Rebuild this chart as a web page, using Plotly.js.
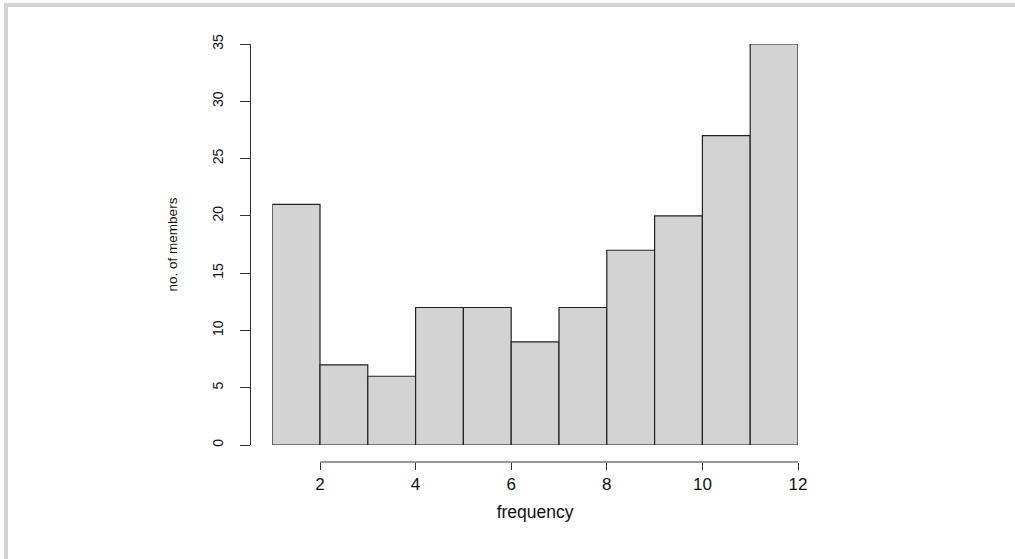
<!DOCTYPE html>
<html>
<head>
<meta charset="utf-8">
<script src="https://cdn.plot.ly/plotly-3.0.1.min.js"></script>
<style>
  html, body { margin: 0; padding: 0; background: #ffffff; }
  #frame { position: absolute; left: 4px; top: 3px; width: 1011px; height: 556px;
           border-top: 4px solid #d3d3d3; border-left: 4px solid #d3d3d3; box-sizing: border-box; }
  #chart { position: absolute; left: 0; top: 0; width: 1015px; height: 559px; }
</style>
</head>
<body>
<div id="frame"></div>
<div id="chart"></div>
<script>
// Histogram data
const binEdges = [1, 2, 3, 4, 5, 6, 7, 8, 9, 10, 11, 12];
const counts   = [21, 7, 6, 12, 12, 9, 12, 17, 20, 27, 35];
const xTicks   = [2, 4, 6, 8, 10, 12];
const yTicks   = [0, 5, 10, 15, 20, 25, 30, 35];
const xLabel   = "frequency";
const yLabel   = "no. of members";

const centers = counts.map((_, i) => (binEdges[i] + binEdges[i + 1]) / 2);
const widths  = counts.map((_, i) => binEdges[i + 1] - binEdges[i]);

const font = "Liberation Sans, Arial, Helvetica, sans-serif";

const trace = {
  type: "bar",
  x: centers,
  y: counts,
  width: widths,
  marker: { color: "#d3d3d3", line: { color: "#222222", width: 1.2 } },
  hoverinfo: "x+y"
};

const layout = {
  width: 1015,
  height: 559,
  margin: { l: 250, r: 217, t: 44, b: 97 },
  paper_bgcolor: "rgba(0,0,0,0)",
  plot_bgcolor: "rgba(0,0,0,0)",
  showlegend: false,
  bargap: 0,
  xaxis: {
    domain: [22.2 / 548, 1],
    range: [binEdges[0], binEdges[binEdges.length - 1]],
    anchor: "free",
    position: 0,
    showline: false,
    showgrid: false,
    zeroline: false,
    ticks: "outside",
    ticklen: 7,
    tickwidth: 1,
    tickcolor: "#333333",
    tickmode: "array",
    tickvals: xTicks,
    ticktext: xTicks.map(String),
    tickfont: { family: font, size: 17, color: "#111111" },
    title: { text: xLabel, font: { family: font, size: 17.5, color: "#111111" }, standoff: 12 }
  },
  yaxis: {
    domain: [17 / 418, 1],
    range: [yTicks[0], yTicks[yTicks.length - 1]],
    anchor: "free",
    position: 0,
    showline: true,
    linecolor: "#333333",
    linewidth: 1,
    showgrid: false,
    zeroline: false,
    ticks: "outside",
    ticklen: 10,
    tickwidth: 1,
    tickcolor: "#333333",
    tickmode: "array",
    tickvals: yTicks,
    ticktext: yTicks.map(String),
    tickangle: -90,
    ticklabelstandoff: 11,
    tickfont: { family: font, size: 14, color: "#111111" },
    title: { text: yLabel, font: { family: font, size: 13.5, color: "#111111" }, standoff: 28 }
  },
  shapes: [{
    type: "line",
    xref: "x", yref: "paper",
    x0: xTicks[0], x1: xTicks[xTicks.length - 1],
    y0: 0, y1: 0,
    line: { color: "#333333", width: 1 }
  }]
};

Plotly.newPlot("chart", [trace], layout, { displayModeBar: false, staticPlot: true });
</script>
</body>
</html>
